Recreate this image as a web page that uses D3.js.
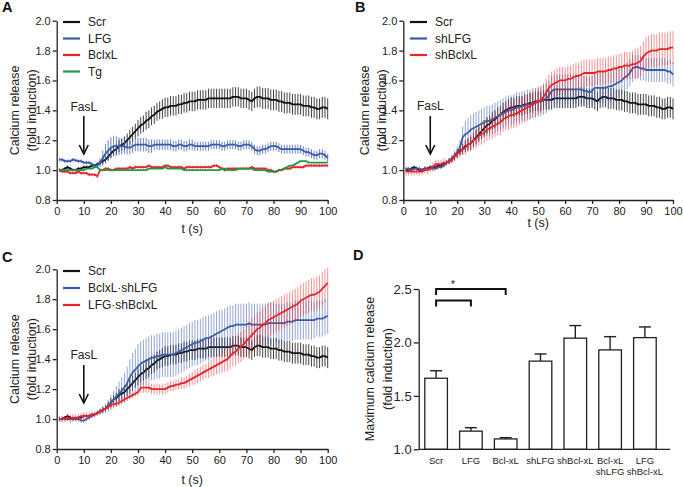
<!DOCTYPE html>
<html><head><meta charset="utf-8">
<script src="https://cdn.jsdelivr.net/npm/d3@7"></script>
<style>
body{margin:0;background:#fff}
text{font-family:"Liberation Sans",Arial,Helvetica,sans-serif;fill:#222}
</style>
</head><body>
<svg id="chart" width="683" height="487"></svg>
<script>
// ---------- DATA ----------
const timeSec = d3.range(1, 101); // sampling grid, 1 s
const xTicks = [0,10,20,30,40,50,60,70,80,90,100];
const yTicksLine = [0.8,1.0,1.2,1.4,1.6,1.8,2.0];

const scrMean = [
1.00,1.00,1.01,1.02,1.01,1.00,1.00,1.01,1.01,1.02,
1.02,1.02,1.03,1.03,1.04,1.05,1.06,1.07,1.09,1.11,
1.13,1.14,1.16,1.17,1.18,1.20,1.22,1.24,1.26,1.28,
1.30,1.31,1.33,1.34,1.36,1.37,1.39,1.40,1.41,1.42,
1.42,1.43,1.43,1.43,1.44,1.44,1.45,1.45,1.46,1.46,
1.46,1.47,1.47,1.47,1.47,1.48,1.48,1.48,1.48,1.48,
1.48,1.48,1.48,1.48,1.49,1.49,1.49,1.48,1.48,1.48,
1.47,1.46,1.48,1.49,1.49,1.48,1.48,1.48,1.47,1.47,
1.47,1.46,1.46,1.45,1.45,1.45,1.44,1.44,1.44,1.44,
1.43,1.43,1.43,1.42,1.42,1.41,1.41,1.42,1.42,1.41];
const scrErr = [
0.01,0.01,0.01,0.01,0.01,0.01,0.01,0.01,0.01,0.01,
0.01,0.01,0.01,0.01,0.01,0.015,0.02,0.02,0.025,0.03,
0.03,0.035,0.04,0.04,0.045,0.045,0.05,0.05,0.05,0.055,
0.055,0.055,0.06,0.06,0.06,0.06,0.06,0.06,0.065,0.065,
0.065,0.065,0.065,0.065,0.065,0.065,0.065,0.065,0.065,0.065,
0.065,0.065,0.065,0.065,0.065,0.065,0.065,0.065,0.065,0.065,
0.065,0.065,0.065,0.065,0.065,0.065,0.065,0.065,0.065,0.065,
0.065,0.065,0.065,0.07,0.07,0.07,0.07,0.07,0.07,0.07,
0.07,0.07,0.07,0.07,0.07,0.07,0.07,0.07,0.07,0.07,
0.07,0.07,0.07,0.07,0.07,0.07,0.07,0.07,0.07,0.07];

// Panel A
const lfgMean = [
1.07,1.07,1.06,1.06,1.06,1.07,1.065,1.06,1.06,1.05,
1.05,1.05,1.04,1.03,1.03,1.05,1.08,1.11,1.13,1.15,
1.16,1.16,1.16,1.16,1.16,1.15,1.15,1.16,1.17,1.17,
1.17,1.17,1.17,1.16,1.16,1.17,1.17,1.17,1.17,1.17,
1.17,1.17,1.16,1.16,1.17,1.17,1.16,1.16,1.17,1.17,
1.16,1.16,1.16,1.16,1.16,1.16,1.17,1.17,1.17,1.17,
1.16,1.16,1.17,1.17,1.17,1.17,1.16,1.16,1.17,1.17,
1.17,1.16,1.14,1.13,1.13,1.14,1.14,1.15,1.16,1.16,
1.16,1.15,1.14,1.14,1.14,1.14,1.14,1.14,1.14,1.14,
1.13,1.12,1.12,1.11,1.10,1.10,1.11,1.11,1.10,1.08];
const lfgErr = [
0.012,0.012,0.012,0.012,0.012,0.012,0.012,0.012,0.012,0.012,
0.012,0.012,0.012,0.012,0.012,0.03,0.05,0.065,0.07,0.07,
0.07,0.065,0.06,0.055,0.05,0.045,0.045,0.045,0.045,0.045,
0.045,0.045,0.045,0.045,0.045,0.035,0.035,0.035,0.035,0.035,
0.035,0.035,0.035,0.035,0.035,0.035,0.035,0.035,0.035,0.035,
0.03,0.03,0.03,0.03,0.03,0.03,0.03,0.03,0.03,0.03,
0.03,0.03,0.03,0.03,0.03,0.03,0.03,0.03,0.03,0.03,
0.03,0.03,0.03,0.03,0.03,0.03,0.03,0.03,0.03,0.03,
0.03,0.03,0.03,0.03,0.03,0.03,0.03,0.03,0.03,0.03,
0.03,0.03,0.03,0.03,0.03,0.03,0.03,0.03,0.03,0.03];
const bclxlMean = [
1.00,0.99,0.99,0.99,0.98,0.98,0.98,0.99,0.98,0.98,
0.98,0.97,0.97,0.97,0.96,1.00,1.00,1.01,1.01,1.00,
1.00,1.01,1.01,1.01,1.01,1.01,1.02,1.01,1.02,1.02,
1.02,1.02,1.02,1.03,1.02,1.02,1.02,1.02,1.02,1.03,
1.03,1.02,1.02,1.02,1.02,1.02,1.01,1.02,1.02,1.02,
1.02,1.02,1.02,1.02,1.02,1.02,1.02,1.03,1.03,1.02,
1.01,1.00,1.01,1.01,1.01,1.01,1.01,1.01,1.01,1.01,
1.01,1.02,1.01,1.01,1.01,1.01,1.01,1.00,1.00,0.99,
0.99,1.00,1.00,1.01,1.01,1.01,1.02,1.02,1.02,1.02,
1.02,1.03,1.03,1.03,1.03,1.03,1.03,1.03,1.03,1.03];
const bclxlErr = [
0.01,0.01,0.01,0.01,0.01,0.01,0.01,0.01,0.01,0.01,
0.01,0.01,0.01,0.01,0.012,0.01,0.01,0.01,0.01,0.01,
0.01,0.01,0.01,0.01,0.01,0.01,0.01,0.01,0.01,0.01,
0.01,0.01,0.01,0.01,0.01,0.01,0.01,0.01,0.01,0.01,
0.01,0.01,0.01,0.01,0.01,0.01,0.01,0.01,0.01,0.01,
0.01,0.01,0.01,0.01,0.01,0.01,0.01,0.01,0.01,0.01,
0.01,0.01,0.01,0.01,0.01,0.01,0.01,0.01,0.01,0.01,
0.01,0.01,0.01,0.01,0.01,0.01,0.01,0.01,0.01,0.01,
0.01,0.01,0.01,0.01,0.01,0.01,0.01,0.01,0.01,0.01,
0.01,0.01,0.01,0.01,0.01,0.01,0.01,0.01,0.01,0.01];
const tgMean = [
1.00,1.00,1.00,1.00,1.00,1.00,1.00,1.00,1.00,1.00,
1.01,1.01,1.01,1.02,1.02,1.00,1.00,1.00,1.00,1.00,
1.00,1.00,1.00,1.00,1.00,1.00,1.00,1.00,1.00,1.00,
1.00,1.00,1.00,1.01,1.01,1.01,1.01,1.01,1.01,1.02,
1.01,1.01,1.01,1.01,1.01,1.01,1.00,1.00,1.00,1.00,
1.00,1.00,1.00,1.00,1.00,1.00,1.00,1.00,1.00,1.00,
1.01,1.01,1.00,1.00,1.00,1.00,1.01,1.01,1.01,1.01,
1.01,1.01,1.00,1.00,1.00,1.00,1.00,0.99,0.99,0.99,
0.99,1.00,1.00,1.01,1.02,1.03,1.03,1.04,1.05,1.06,
1.06,1.06,1.05,1.05,1.05,1.05,1.05,1.05,1.05,1.05];

// Panel B
const shLfgMean = [
1.01,1.01,1.00,1.01,1.01,1.01,1.00,1.01,1.01,1.01,
1.01,1.01,1.02,1.02,1.03,1.05,1.06,1.08,1.10,1.12,
1.15,1.22,1.24,1.25,1.27,1.28,1.29,1.30,1.31,1.32,
1.33,1.33,1.34,1.35,1.36,1.37,1.38,1.39,1.40,1.40,
1.41,1.42,1.42,1.43,1.43,1.44,1.44,1.45,1.45,1.46,
1.46,1.47,1.48,1.50,1.53,1.54,1.54,1.54,1.54,1.54,
1.54,1.54,1.54,1.54,1.54,1.54,1.53,1.53,1.52,1.53,
1.55,1.55,1.55,1.55,1.55,1.56,1.56,1.57,1.58,1.59,
1.60,1.62,1.63,1.65,1.68,1.69,1.69,1.68,1.68,1.67,
1.67,1.67,1.67,1.67,1.67,1.67,1.67,1.66,1.66,1.64];
const shLfgErr = [
0.015,0.015,0.015,0.015,0.015,0.015,0.015,0.015,0.015,0.015,
0.015,0.015,0.015,0.015,0.015,0.02,0.02,0.025,0.03,0.04,
0.05,0.07,0.09,0.1,0.1,0.1,0.1,0.1,0.1,0.1,
0.1,0.1,0.1,0.1,0.1,0.1,0.1,0.1,0.1,0.1,
0.1,0.1,0.1,0.1,0.1,0.1,0.1,0.1,0.1,0.1,
0.1,0.1,0.1,0.1,0.1,0.1,0.1,0.1,0.1,0.1,
0.1,0.1,0.1,0.1,0.1,0.1,0.1,0.1,0.1,0.1,
0.1,0.1,0.1,0.1,0.1,0.1,0.1,0.1,0.1,0.1,
0.09,0.09,0.09,0.09,0.09,0.08,0.08,0.08,0.08,0.08,
0.08,0.08,0.08,0.08,0.08,0.08,0.08,0.08,0.08,0.08];
const shBclxlMean = [
0.99,0.99,0.99,0.99,0.99,0.99,0.99,1.00,1.00,1.01,
1.02,1.04,1.04,1.04,1.05,1.05,1.06,1.07,1.09,1.11,
1.12,1.14,1.15,1.17,1.18,1.20,1.21,1.23,1.24,1.25,
1.27,1.28,1.29,1.30,1.31,1.32,1.34,1.35,1.36,1.37,
1.37,1.38,1.39,1.40,1.41,1.42,1.43,1.44,1.45,1.46,
1.47,1.49,1.52,1.55,1.57,1.58,1.59,1.60,1.60,1.60,
1.61,1.61,1.62,1.63,1.63,1.64,1.65,1.65,1.65,1.65,
1.65,1.66,1.66,1.66,1.66,1.67,1.67,1.68,1.68,1.69,
1.69,1.70,1.70,1.70,1.71,1.71,1.72,1.73,1.76,1.78,
1.79,1.80,1.80,1.80,1.81,1.81,1.81,1.81,1.82,1.82];
const shBclxlErr = [
0.025,0.025,0.025,0.025,0.025,0.025,0.025,0.025,0.025,0.025,
0.03,0.03,0.03,0.03,0.03,0.02,0.02,0.025,0.03,0.03,
0.035,0.04,0.045,0.05,0.055,0.06,0.06,0.065,0.07,0.07,
0.075,0.075,0.08,0.08,0.08,0.085,0.085,0.085,0.09,0.09,
0.09,0.09,0.09,0.09,0.09,0.09,0.09,0.09,0.09,0.09,
0.09,0.09,0.09,0.09,0.09,0.09,0.09,0.09,0.09,0.09,
0.09,0.09,0.09,0.09,0.09,0.09,0.09,0.09,0.09,0.09,
0.09,0.09,0.09,0.09,0.09,0.09,0.09,0.09,0.09,0.09,
0.09,0.09,0.09,0.09,0.09,0.1,0.1,0.1,0.1,0.11,
0.11,0.11,0.11,0.11,0.11,0.11,0.11,0.11,0.11,0.11];

// Panel C
const bclShLfgMean = [
1.00,1.00,1.00,1.00,1.00,1.00,1.00,1.00,0.99,0.99,
1.00,1.01,1.02,1.03,1.04,1.05,1.06,1.07,1.09,1.11,
1.13,1.15,1.17,1.19,1.21,1.24,1.28,1.31,1.33,1.35,
1.37,1.38,1.39,1.40,1.41,1.41,1.42,1.42,1.43,1.43,
1.43,1.43,1.43,1.44,1.45,1.46,1.47,1.48,1.49,1.50,
1.51,1.51,1.52,1.53,1.54,1.54,1.55,1.56,1.57,1.58,
1.59,1.60,1.61,1.62,1.62,1.63,1.63,1.63,1.63,1.63,
1.64,1.63,1.63,1.63,1.63,1.63,1.63,1.64,1.64,1.64,
1.64,1.64,1.64,1.64,1.65,1.65,1.65,1.66,1.66,1.66,
1.66,1.66,1.66,1.66,1.66,1.67,1.67,1.67,1.68,1.69];
const bclShLfgErr = [
0.015,0.015,0.015,0.015,0.015,0.015,0.015,0.015,0.015,0.015,
0.015,0.015,0.015,0.015,0.015,0.02,0.025,0.03,0.04,0.05,
0.06,0.07,0.08,0.09,0.1,0.11,0.12,0.13,0.14,0.15,
0.15,0.15,0.15,0.15,0.15,0.15,0.15,0.15,0.15,0.15,
0.15,0.15,0.15,0.15,0.15,0.15,0.15,0.15,0.15,0.15,
0.15,0.15,0.15,0.15,0.15,0.15,0.15,0.15,0.15,0.15,
0.14,0.14,0.14,0.14,0.14,0.14,0.14,0.14,0.14,0.14,
0.14,0.14,0.14,0.14,0.14,0.14,0.14,0.14,0.14,0.14,
0.13,0.13,0.13,0.13,0.13,0.13,0.13,0.13,0.13,0.13,
0.13,0.13,0.13,0.13,0.12,0.12,0.12,0.12,0.12,0.12];
const lfgShBclMean = [
1.00,1.00,1.00,1.01,1.00,1.01,1.01,1.01,1.02,1.02,
1.02,1.02,1.03,1.03,1.04,1.05,1.06,1.07,1.08,1.09,
1.10,1.10,1.11,1.12,1.13,1.14,1.15,1.16,1.17,1.18,
1.21,1.21,1.21,1.21,1.20,1.20,1.20,1.20,1.20,1.20,
1.21,1.22,1.22,1.23,1.23,1.24,1.24,1.25,1.26,1.27,
1.28,1.29,1.30,1.31,1.32,1.33,1.34,1.35,1.36,1.37,
1.38,1.39,1.40,1.42,1.44,1.45,1.47,1.48,1.50,1.52,
1.54,1.56,1.58,1.60,1.61,1.63,1.64,1.66,1.67,1.68,
1.69,1.70,1.71,1.72,1.73,1.74,1.75,1.76,1.77,1.79,
1.80,1.81,1.82,1.83,1.83,1.84,1.85,1.87,1.89,1.91];
const lfgShBclErr = [
0.02,0.02,0.02,0.025,0.03,0.025,0.02,0.025,0.02,0.025,
0.025,0.02,0.02,0.02,0.02,0.02,0.02,0.02,0.02,0.02,
0.02,0.02,0.02,0.02,0.02,0.02,0.02,0.02,0.02,0.025,
0.035,0.035,0.035,0.035,0.035,0.035,0.035,0.035,0.035,0.035,
0.035,0.035,0.035,0.035,0.035,0.04,0.04,0.04,0.045,0.045,
0.05,0.05,0.05,0.05,0.05,0.055,0.055,0.06,0.06,0.065,
0.07,0.075,0.08,0.085,0.09,0.095,0.1,0.1,0.1,0.105,
0.11,0.11,0.11,0.11,0.11,0.11,0.11,0.11,0.11,0.11,
0.11,0.11,0.11,0.11,0.11,0.11,0.11,0.11,0.11,0.11,
0.11,0.11,0.11,0.11,0.11,0.11,0.11,0.11,0.11,0.1];

// Panel D
const dCategories = ["Scr","LFG","Bcl-xL","shLFG","shBcl-xL","Bcl-xL|shLFG","LFG|shBcl-xL"];
const dMeans = [1.665,1.17,1.097,1.825,2.04,1.93,2.045];
const dErrors = [0.07,0.032,0.012,0.067,0.118,0.124,0.10];
const dYTicks = [1.0,1.5,2.0,2.5];

// ---------- DRAW ----------
const svg = d3.select("#chart");
const C = {black:"#111111", blue:"#3a5ba9", red:"#e5262c", green:"#21994a"};

function linePanel(cfg){
  const g = svg.append("g");
  const x = d3.scaleLinear().domain([0,100]).range([cfg.x0, cfg.x1]);
  const y = d3.scaleLinear().domain([0.8,2.0]).range([cfg.y0, cfg.y1]);
  cfg.series.forEach(s => {
    const pts = timeSec.map((t,i)=>({t, v:s.mean[i], e:s.err ? s.err[i] : 0}));
    if (s.err) {
      g.append("g").selectAll("line").data(pts).join("line")
        .attr("x1", d=>x(d.t)).attr("x2", d=>x(d.t))
        .attr("y1", d=>y(d.v - d.e)).attr("y2", d=>y(d.v + d.e))
        .attr("stroke", s.barColor || s.color).attr("stroke-opacity", s.barOpacity || 0.6)
        .attr("stroke-width", 1);
    }
    g.append("path").datum(pts)
      .attr("fill","none").attr("stroke", s.color).attr("stroke-width", 1.8)
      .attr("stroke-linejoin","round")
      .attr("d", d3.line().x(d=>x(d.t)).y(d=>y(d.v)));
  });
  const ya = g.append("g").attr("transform",`translate(${cfg.x0},0)`)
    .call(d3.axisLeft(y).tickValues(yTicksLine).tickFormat(d3.format(".1f")).tickSize(4).tickSizeOuter(0).tickPadding(2));
  const xa = g.append("g").attr("transform",`translate(0,${cfg.y0})`)
    .call(d3.axisBottom(x).tickValues(xTicks).tickSize(4).tickSizeOuter(0).tickPadding(3));
  [ya,xa].forEach(a=>{
    a.selectAll("path,line").attr("stroke","#222").attr("stroke-width",1.3);
    a.selectAll("text").attr("font-size",11).attr("font-family","Liberation Sans, Arial, sans-serif").attr("fill","#222");
  });
  g.append("text").attr("x",(cfg.x0+cfg.x1)/2).attr("y",cfg.xTitleY)
    .attr("text-anchor","middle").attr("font-size",12.5).text("t (s)");
  const yt = g.append("text").attr("transform",`translate(${cfg.yTitleX},${(cfg.y0+cfg.y1)/2}) rotate(-90)`)
    .attr("text-anchor","middle").attr("font-size",12.5);
  yt.append("tspan").attr("x",0).attr("dy",0).text("Calcium release");
  yt.append("tspan").attr("x",0).attr("dy",16.5).text("(fold induction)");
  cfg.series.forEach((s,i)=>{
    const ly = cfg.legY + i*cfg.legStep;
    g.append("line").attr("x1",cfg.legX).attr("x2",cfg.legX+17).attr("y1",ly).attr("y2",ly)
      .attr("stroke",s.color).attr("stroke-width",2.2);
    g.append("text").attr("x",cfg.legX+25).attr("y",ly+4.2).attr("font-size",12).text(s.name);
  });
  const ax = x(10);
  g.append("text").attr("x",ax).attr("y",cfg.fasY).attr("text-anchor","middle").attr("font-size",12).text("FasL");
  g.append("line").attr("x1",ax).attr("x2",ax).attr("y1",cfg.arrY0).attr("y2",cfg.arrY1)
    .attr("stroke","#111").attr("stroke-width",1.6);
  g.append("path").attr("d",`M${ax-4.5},${cfg.arrY1-9}L${ax},${cfg.arrY1}L${ax+4.5},${cfg.arrY1-9}`)
    .attr("fill","none").attr("stroke","#111").attr("stroke-width",1.6);
  svg.append("text").attr("x",cfg.labX).attr("y",cfg.labY).attr("font-size",14.5)
    .attr("font-weight","bold").style("fill","#111").text(cfg.label);
}

linePanel({label:"A", labX:2, labY:12, x0:56.7, x1:327.7, y0:200, y1:20.7,
  xTitleY:233, yTitleX:19, legX:63, legY:22, legStep:16.5, fasY:111, arrY0:116, arrY1:154,
  series:[
    {name:"Scr", color:C.black, mean:scrMean, err:scrErr, barColor:"#222", barOpacity:0.85},
    {name:"LFG", color:C.blue, mean:lfgMean, err:lfgErr, barOpacity:0.75},
    {name:"BclxL", color:C.red, mean:bclxlMean, err:bclxlErr, barOpacity:0.8},
    {name:"Tg", color:C.green, mean:tgMean, err:null}
  ]});
linePanel({label:"B", labX:355, labY:12, x0:403.3, x1:673, y0:200, y1:20.7,
  xTitleY:227, yTitleX:369, legX:410, legY:22, legStep:16.5, fasY:110, arrY0:116, arrY1:154,
  series:[
    {name:"Scr", color:C.black, mean:scrMean, err:scrErr, barColor:"#222", barOpacity:0.85},
    {name:"shLFG", color:C.blue, mean:shLfgMean, err:shLfgErr, barOpacity:0.55},
    {name:"shBclxL", color:C.red, mean:shBclxlMean, err:shBclxlErr, barOpacity:0.5}
  ]});
linePanel({label:"C", labX:2, labY:262, x0:56.7, x1:327.7, y0:449, y1:269.3,
  xTitleY:483.5, yTitleX:19, legX:63, legY:271, legStep:17, fasY:359, arrY0:365, arrY1:403,
  series:[
    {name:"Scr", color:C.black, mean:scrMean, err:scrErr, barColor:"#222", barOpacity:0.85},
    {name:"BclxL·shLFG", color:C.blue, mean:bclShLfgMean, err:bclShLfgErr, barOpacity:0.55},
    {name:"LFG·shBclxL", color:C.red, mean:lfgShBclMean, err:lfgShBclErr, barOpacity:0.5}
  ]});

// Panel D
(function(){
  const g = svg.append("g");
  const x = d3.scaleBand().domain(dCategories).range([418.7, 662.3]).paddingInner(0.35).paddingOuter(0.175);
  const y = d3.scaleLinear().domain([1.0,2.5]).range([449.3, 289]);
  const bw = x.bandwidth();
  const data = dCategories.map((c,i)=>({c, m:dMeans[i], e:dErrors[i]}));
  g.selectAll(".eb").data(data).join("line")
    .attr("x1",d=>x(d.c)+bw/2).attr("x2",d=>x(d.c)+bw/2)
    .attr("y1",d=>y(d.m)).attr("y2",d=>y(d.m+d.e)).attr("stroke","#222").attr("stroke-width",1.4);
  g.selectAll(".cap").data(data).join("line")
    .attr("x1",d=>x(d.c)+bw/2-6).attr("x2",d=>x(d.c)+bw/2+6)
    .attr("y1",d=>y(d.m+d.e)).attr("y2",d=>y(d.m+d.e)).attr("stroke","#222").attr("stroke-width",1.4);
  g.selectAll("rect").data(data).join("rect")
    .attr("x",d=>x(d.c)).attr("width",bw)
    .attr("y",d=>y(d.m)).attr("height",d=>y(1.0)-y(d.m))
    .attr("fill","#fff").attr("stroke","#222").attr("stroke-width",1.3);
  const ya = g.append("g").attr("transform","translate(418.7,0)")
    .call(d3.axisLeft(y).tickValues(dYTicks).tickFormat(d3.format(".1f")).tickSize(5).tickSizeOuter(0).tickPadding(2));
  ya.selectAll("path,line").attr("stroke","#222").attr("stroke-width",1.3);
  ya.selectAll("text").attr("font-size",13).attr("fill","#222").attr("font-family","Liberation Sans, Arial, sans-serif");
  g.append("line").attr("x1",418.7).attr("x2",670).attr("y1",y(1.0)).attr("y2",y(1.0))
    .attr("stroke","#222").attr("stroke-width",1.3);
  dCategories.forEach(c=>{
    const parts = c.split("|");
    const t = g.append("text").attr("text-anchor","middle").attr("font-size",9.5)
      .attr("x", x(c)+bw/2).attr("y", 464);
    parts.forEach((p,k)=> t.append("tspan").attr("x",x(c)+bw/2).attr("dy",k===0?0:10.5).text(p));
  });
  const yt = g.append("text").attr("transform","translate(374,369) rotate(-90)")
    .attr("text-anchor","middle").attr("font-size",12.5);
  yt.append("tspan").attr("x",0).attr("dy",0).text("Maximum calcium release");
  yt.append("tspan").attr("x",0).attr("dy",18).text("(fold induction)");
  const cx = c => x(c)+bw/2;
  const brackets = [{a:"Scr", b:"Bcl-xL", yv:2.5}, {a:"Scr", b:"LFG", yv:2.393}];
  brackets.forEach(br=>{
    const yy = y(br.yv);
    g.append("path").attr("d",`M${cx(br.a)},${yy+6}V${yy}H${cx(br.b)}V${yy+6}`)
      .attr("fill","none").attr("stroke","#111").attr("stroke-width",2);
  });
  g.append("text").attr("x",453).attr("y",y(2.5)-1).attr("text-anchor","middle").attr("font-size",11).text("*");
  svg.append("text").attr("x",353).attr("y",260).attr("font-size",14.5).attr("font-weight","bold").style("fill","#111").text("D");
})();
</script>
</body></html>
